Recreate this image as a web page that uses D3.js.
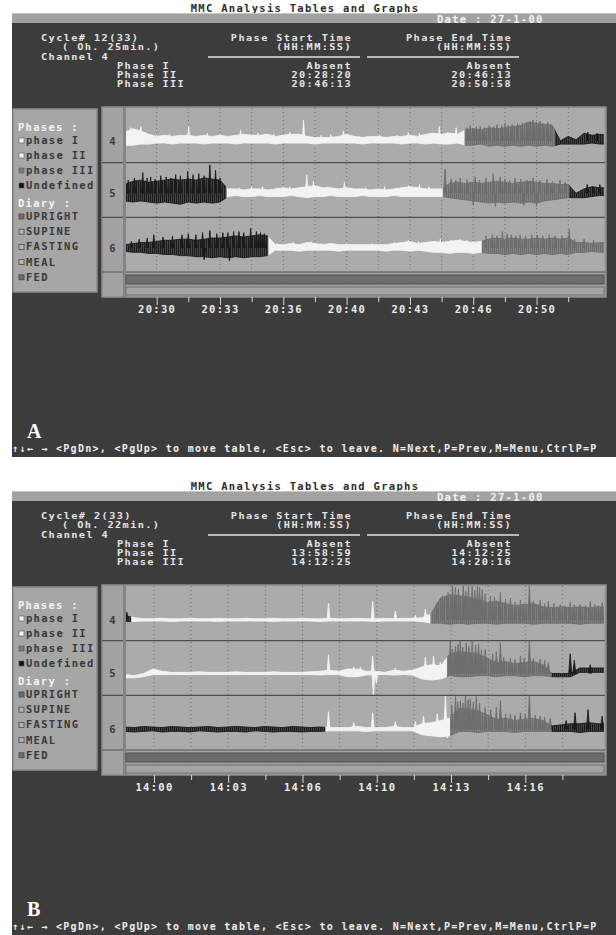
<!DOCTYPE html>
<html lang="en">
<head>
<meta charset="utf-8">
<title>MMC Analysis Tables and Graphs</title>
<script src="https://cdn.jsdelivr.net/npm/d3@7"></script>
<style>
  body { margin: 0; background: #fff; }
  svg text { font-family: "DejaVu Sans Mono", monospace; font-weight: bold; font-size: 10.5px; letter-spacing: 1.3px; }
  svg text.hdr { font-size: 7.9px; letter-spacing: 1.07px; }
</style>
</head>
<body>
<script>
// ---- values ----
var screenLetters = ["A", "B"]
var titleText = "MMC Analysis Tables and Graphs"
var dateLabel = "Date : 27-1-00"
var cycleLabels = ["Cycle# 12(33)", "Cycle#  2(33)"]
var cycleLengths = ["( Oh. 25min.)", "( Oh. 22min.)"]
var channelLabel = "Channel 4"
var phaseNames = ["Phase I", "Phase II", "Phase III"]
var startTimesA = ["Absent", "20:28:20", "20:46:13"]
var endTimesA = ["Absent", "20:46:13", "20:50:58"]
var startTimesB = ["Absent", "13:58:59", "14:12:25"]
var endTimesB = ["Absent", "14:12:25", "14:20:16"]
var footerText = "\u2191\u2193\u2190 \u2192 <PgDn>, <PgUp> to move table, <Esc> to leave. N=Next,P=Prev,M=Menu,CtrlP=P"

var legendPhases = ["phase I", "phase II", "phase III", "Undefined"]
var legendPhaseFills = ["#f4f4f4", "#f4f4f4", "#7a7a7a", "#111"]
var legendDiary = ["UPRIGHT", "SUPINE", "FASTING", "MEAL", "FED"]
var legendDiaryFills = ["#6c6c6c", "#b4b4b4", "#b4b4b4", "#b4b4b4", "#6c6c6c"]

var channels = ["4", "5", "6"]
var timeDomainA = ["20:28:20", "20:53:33"]
var timeDomainB = ["13:58:42", "14:20:12"]
var firstTickA = "20:30:00", firstTickB = "14:00:00"
var tickLabelsA = ["20:30", "20:33", "20:36", "20:40", "20:43", "20:46", "20:50"]
var tickLabelsB = ["14:00", "14:03", "14:06", "14:10", "14:13", "14:16"]

// phase segments per channel: [phase, from, to]  (U = undefined)
var segA4 = [["II", "20:28:20", "20:46:13"], ["III", "20:46:13", "20:50:58"], ["U", "20:50:58", "20:53:33"]]
var segA5 = [["U", "20:28:20", "20:33:41"], ["II", "20:33:41", "20:45:04"], ["III", "20:45:04", "20:51:43"], ["U", "20:51:43", "20:53:33"]]
var segA6 = [["U", "20:28:20", "20:35:53"], ["II", "20:35:53", "20:47:07"], ["III", "20:47:07", "20:53:33"]]
var segB4 = [["U", "13:58:42", "13:58:59"], ["II", "13:58:59", "14:12:25"], ["III", "14:12:25", "14:20:12"]]
var segB5 = [["II", "13:58:42", "14:13:09"], ["III", "14:13:09", "14:17:51"], ["U", "14:17:51", "14:20:12"]]
var segB6 = [["U", "13:58:42", "14:07:42"], ["II", "14:07:42", "14:13:18"], ["III", "14:13:18", "14:17:51"], ["U", "14:17:51", "14:20:12"]]

// trace envelope (mmHg above / below each channel's baseline), one value every 25 s
var sampleStep = 25
var baseA = [0, 2, 2]
var baseB = [-1, 0, -1]
var hiA4 = [8, 11, 9, 6, 4, 5, 4, 5, 5, 4, 5, 4, 5, 4, 5, 6, 5, 5, 6, 4, 5, 6, 6, 4, 3, 3, 3, 4, 6, 4, 3, 4, 4, 3, 4, 4, 5, 4, 6, 7, 6, 7, 6, 10, 11, 10, 12, 11, 12, 13, 14, 17, 16, 15, 14, 0, 4, 1, 7, 5, 6, 5]
var loA4 = [-4, -4, -3, -3, -2, -2, -3, -2, -2, -2, -3, -2, -2, -2, -3, -2, -2, -2, -2, -3, -2, -2, -2, -2, -3, -2, -2, -2, -2, -2, -3, -2, -2, -2, -2, -3, -2, -2, -3, -2, -3, -3, -2, -4, -4, -3, -5, -4, -5, -4, -5, -4, -5, -4, -5, -3, -3, -3, -3, -2, -3, -3]
var hiA5 = [8, 11, 12, 10, 11, 12, 13, 12, 13, 12, 14, 13, 12, 4, 4, 3, 4, 4, 3, 4, 5, 4, 5, 6, 7, 5, 5, 4, 5, 4, 4, 3, 4, 3, 4, 5, 6, 5, 4, 4, 4, 9, 10, 9, 10, 9, 10, 11, 10, 9, 10, 11, 10, 9, 9, 8, 8, 0, 4, 6, 5, 5]
var loA5 = [-7, -8, -7, -8, -9, -8, -9, -10, -8, -9, -8, -9, -8, -3, -2, -3, -3, -2, -3, -3, -3, -2, -3, -4, -3, -3, -2, -3, -3, -3, -2, -3, -3, -3, -2, -3, -3, -3, -3, -3, -3, -4, -5, -6, -7, -8, -9, -8, -9, -8, -9, -8, -9, -7, -6, -5, -4, -4, -4, -3, -2, -2]
var hiA6 = [3, 4, 5, 5, 6, 7, 7, 8, 8, 7, 8, 9, 9, 10, 11, 10, 11, 12, 11, 3, 3, 4, 3, 5, 4, 3, 4, 3, 3, 3, 3, 3, 3, 3, 4, 5, 6, 4, 5, 6, 5, 6, 7, 6, 5, 6, 8, 9, 8, 9, 8, 8, 9, 8, 9, 8, 9, 5, 5, 4, 5, 5]
var loA6 = [-3, -4, -4, -5, -5, -6, -6, -7, -7, -8, -8, -9, -8, -9, -8, -9, -8, -8, -7, -2, -2, -2, -3, -2, -2, -2, -2, -3, -2, -2, -2, -2, -2, -3, -2, -2, -3, -2, -3, -4, -4, -5, -4, -4, -5, -4, -5, -5, -6, -5, -6, -5, -6, -5, -6, -5, -6, -4, -4, -3, -4, -4]
var hiB4 = [4, 2, 1, 1, 1.5, 1, 1, 1.5, 1, 1, 1.5, 1, 1, 1.5, 1, 1, 1.5, 1, 1, 1.5, 1, 1, 1.5, 1, 1, 1.5, 1, 1, 1.5, 1, 1.5, 1.5, 2, 6, 20, 23, 22, 21, 19, 16, 17, 15, 13, 14, 15, 12, 11, 12, 11, 12, 11, 12, 11]
var loB4 = [-1.5, -1.5, -1, -1, -1, -1.5, -1, -1, -1, -1, -1.5, -1, -1, -1, -1, -1, -1.5, -1, -1, -1, -1, -1.5, -1, -1, -1, -1, -1, -1.5, -1, -1, -1, -1, -1.5, -3, -3, -4, -3, -4, -3, -3, -4, -3, -3, -3, -4, -3, -3, -3, -3, -4, -3, -3, -3]
var hiB5 = [-1, -2, 0, 4, 2, 1, 1, 1, 1.5, 1, 1, 1, 1.5, 1, 1, 1, 1.5, 1, 1, 1, 1.5, 2, 3, 2, 4, 4, 2, 2, 1, 3, 2, 3, 6, 8, 7, 18, 20, 19, 18, 14, 10, 11, 9, 10, 11, 8, 0, 0, 0, 5, 5, 5, 5]
var loB5 = [-4, -4, -3, -1, -1, -1, -1, -1, -1, -1, -1, -1, -1, -1, -1, -1, -1, -1, -1, -1, -1, -1.5, -1, -1, -3, -3, -1.5, -1, -1, -1.5, -1, -1.5, -5, -6, -5, -2, -3, -3, -2, -2, -3, -2, -2, -3, -2, -2, -3, -3, -3, 1, 1, 1, 1]
var hiB6 = [2, 1.5, 2.5, 2, 1.5, 2.5, 2, 1.5, 2, 2.5, 1.5, 2, 2.5, 2, 1.5, 2.5, 2, 1.5, 2.5, 2, 1.5, 2, 1.5, 1.5, 1.5, 2.5, 1.5, 1.5, 1.5, 2.5, 1.5, 1.5, 5, 6, 8, 10, 19, 18, 17, 13, 9, 10, 8, 9, 10, 8, 3, 4, 5, 5, 6, 5, 5]
var loB6 = [-2, -2.5, -2, -1.5, -2.5, -2, -2, -2.5, -1.5, -2, -2.5, -2, -2, -2.5, -1.5, -2, -2.5, -2, -2, -2.5, -2, -2, -1.5, -1.5, -1.5, -1.5, -2, -1.5, -1.5, -1.5, -1.5, -1.5, -5, -6, -7, -6, -2, -2, -3, -2, -2, -2, -3, -2, -2, -2, -2, -2, -2, -3, -2, -2, -2]

// single spikes: [seconds after domain start, peak mmHg]
var spikesA4 = [[18, 12], [50, 13], [100, 5], [140, 6], [201, 13], [260, 7], [300, 6], [365, 10], [420, 7], [470, 6], [520, 8],
  [564, 19], [620, 5], [650, 6], [690, 9], [740, 4], [804, 5], [860, 5], [895, 8], [930, 7], [960, 6], [993, 13], [1020, 8], [1046, 12],
  [1080, 12], [1090, 14], [1100, 11], [1110, 13], [1122, 13], [1135, 12], [1150, 14], [1165, 13], [1175, 15], [1190, 14], [1200, 16],
  [1210, 14], [1223, 15], [1240, 16], [1255, 16], [1270, 17], [1280, 18], [1289, 19], [1300, 17], [1311, 18], [1320, 16], [1336, 17],
  [1345, 15], [1462, 8], [1491, 7]]
var spikesA5 = [[10, 12], [30, 14], [56, 19], [70, 14], [81, 15], [95, 13], [113, 16], [130, 15], [145, 14], [160, 17], [175, 16],
  [198, 20], [215, 17], [233, 18], [250, 16], [268, 26], [286, 21], [300, 14], [360, 5], [400, 6], [435, 6], [480, 5], [520, 6],
  [574, 17], [595, 11], [640, 6], [693, 10], [760, 5], [820, 6], [860, 5], [895, 7], [930, 8], [960, 6],
  [1011, 22], [1030, 13], [1045, 12], [1059, 14], [1080, 13], [1100, -11], [1106, 15], [1120, 12], [1140, 14], [1163, 18],
  [1170, -12], [1185, 15], [1200, 13], [1215, 12], [1232, 14], [1250, 13], [1260, -11], [1270, 12], [1289, 14], [1300, -12],
  [1310, 12], [1333, 13], [1350, 11], [1374, 12], [1390, 10], [1460, 8], [1479, 6], [1500, 8]]
var spikesA6 = [[20, 6], [45, 8], [70, 9], [91, 12], [120, 10], [150, 11], [180, 12], [200, 13], [224, 12], [245, 14], [250, -11],
  [268, 16], [290, 13], [309, 14], [325, 14], [330, -12], [343, 15], [360, 15], [375, 14], [397, 18], [415, 15], [428, 14], [440, 13],
  [480, 4], [532, 5], [587, 6], [620, 4], [700, 4], [780, 4], [850, 5], [895, 7], [927, 6], [996, 8], [1030, 7], [1059, 8], [1080, 7],
  [1100, 6], [1140, 11], [1160, 12], [1175, 11], [1192, 15], [1207, 13], [1220, 12],
  [1235, 11], [1248, 12], [1265, 11], [1285, 12], [1302, 12], [1320, 11], [1340, 12], [1358, 11], [1380, 11], [1403, 17], [1420, 8],
  [1450, 8], [1480, 7]]
var spikesB4 = [[5, 7], [387, 2], [548, 15], [667, 17], [728, 8], [782, 4], [809, 10], [840, 15], [855, 22], [870, 25], [882, 33],
  [890, 30], [898, 28], [911, 33], [918, 26], [925, 31], [935, 33], [942, 27], [949, 32], [955, 30], [962, 28], [970, 24], [984, 22],
  [995, 21], [1011, 25], [1025, 19], [1038, 20], [1050, 16], [1065, 18], [1075, 15], [1089, 32], [1100, 17], [1118, 18], [1130, 15],
  [1140, 17], [1155, 15], [1172, 14], [1185, 13], [1199, 16], [1210, 14], [1226, 14], [1240, 13], [1253, 17], [1265, 14], [1275, 13],
  [1285, 16]]
var spikesB5 = [[548, 17], [616, 6], [634, 6], [667, 16], [669, -20], [677, -9], [728, 5], [809, 15], [831, 16], [849, 10], [876, 30],
  [882, 22], [890, 25], [897, 27], [903, 30], [910, 24], [919, 28], [926, 25], [935, 30], [944, 26], [952, 27], [960, 22], [970, 22],
  [990, 18], [1000, 20], [1011, 28], [1020, 15], [1038, 14], [1050, 13], [1065, 16], [1075, 14], [1089, 31], [1100, 14], [1118, 13],
  [1130, 12], [1140, 10], [1199, 18], [1210, 12], [1253, 8]]
var spikesB6 = [[548, 16], [616, 6], [667, 15], [728, 7], [782, 7], [804, 12], [841, 14], [863, 31], [868, -8], [880, 22], [890, 30],
  [896, 25], [903, 26], [910, 24], [917, 31], [924, 27], [930, 28], [938, 25], [946, 30], [955, 24], [970, 20], [985, 18], [1000, 20],
  [1011, 26], [1025, 14], [1038, 14], [1050, 13], [1065, 15], [1078, 14], [1089, 32], [1105, 13], [1118, 12], [1130, 11], [1145, 10],
  [1188, 8], [1212, 15], [1247, 18], [1285, 12]]

var phaseColor = { I: "#f3f3f3", II: "#f3f3f3", III: "#6e6e6e", U: "#1b1b1b" }

// ---- drawing ----
var svg = d3.select('body').append('svg').attr('width', 616).attr('height', 935)
var parse = d3.timeParse('%H:%M:%S')
var clipId = 0

// vertical hatching gives the dense-noise look of the recorder traces
var defs = svg.append('defs')
Object.keys(phaseColor).forEach(function(k) {
  defs.append('pattern').attr('id', 'hatch' + k).attr('patternUnits', 'userSpaceOnUse')
    .attr('width', 2).attr('height', 4)
    .append('rect').attr('width', 1.7).attr('height', 4).attr('fill', phaseColor[k])
})
function traceFill(ph) { return (ph === 'III' || ph === 'U') ? 'url(#hatch' + ph + ')' : phaseColor[ph] }

var screens = [
  { oy: 0, letter: screenLetters[0], cycle: cycleLabels[0], len: cycleLengths[0], starts: startTimesA, ends: endTimesA,
    domain: timeDomainA, firstTick: firstTickA, tickLabels: tickLabelsA, base: baseA,
    segs: [segA4, segA5, segA6], his: [hiA4, hiA5, hiA6], los: [loA4, loA5, loA6], spikes: [spikesA4, spikesA5, spikesA6] },
  { oy: 478, letter: screenLetters[1], cycle: cycleLabels[1], len: cycleLengths[1], starts: startTimesB, ends: endTimesB,
    domain: timeDomainB, firstTick: firstTickB, tickLabels: tickLabelsB, base: baseB,
    segs: [segB4, segB5, segB6], his: [hiB4, hiB5, hiB6], los: [loB4, loB5, loB6], spikes: [spikesB4, spikesB5, spikesB6] }
]

function txt(g, x, y, s, fill, anchor) {
  return g.append('text').attr('x', x).attr('y', y).attr('fill', fill)
    .attr('text-anchor', anchor || 'start').text(s)
}

// several screen lines in the tight header: glyphs stretched sideways like the DOS font
function block(g, x, y, lines, dy, fill, anchor, indents) {
  lines.forEach(function(l, i) {
    var xi = x + (indents ? indents[i] : 0)
    g.append('text').attr('class', 'hdr')
      .attr('transform', 'translate(' + xi + ',' + (y + i * dy) + ') scale(1.3,1)')
      .attr('fill', fill).attr('text-anchor', anchor || 'start').text(l)
  })
}

function drawScreen(s) {
  var g = svg.append('g').attr('transform', 'translate(0,' + s.oy + ')')

  // title strip, grey bar, dark screen
  txt(g, 305, 12, titleText, '#2b2b2b', 'middle')
  g.append('rect').attr('x', 12).attr('y', 13).attr('width', 604).attr('height', 10).attr('fill', '#a2a2a2')
  g.append('line').attr('x1', 12).attr('x2', 616).attr('y1', 13.5).attr('y2', 13.5).attr('stroke', '#c4c4c4')
  g.append('rect').attr('x', 12).attr('y', 23).attr('width', 604).attr('height', 434).attr('fill', '#3c3c3c')
  txt(g, 437, 23, dateLabel, '#f2f2f2')

  // header table
  var hc = '#e4e4e4', pitch = 9.3
  block(g, 41, 41, [s.cycle, s.len, channelLabel], pitch, hc, 'start', [0, 21, 0])
  block(g, 117, 68.7, phaseNames, pitch, hc)
  block(g, 352, 41, ['Phase Start Time', '(HH:MM:SS)'], pitch, hc, 'end')
  block(g, 512, 41, ['Phase End Time', '(HH:MM:SS)'], pitch, hc, 'end')
  g.append('rect').attr('x', 208).attr('y', 56).attr('width', 152).attr('height', 2).attr('fill', '#b8b8b8')
  g.append('rect').attr('x', 367).attr('y', 56).attr('width', 152).attr('height', 2).attr('fill', '#b8b8b8')
  block(g, 352, 68.7, s.starts, pitch, hc, 'end')
  block(g, 512, 68.7, s.ends, pitch, hc, 'end')

  // legend box
  g.append('rect').attr('x', 13).attr('y', 109).attr('width', 84).attr('height', 183)
    .attr('fill', '#a6a6a6').attr('stroke', '#8a8a8a').attr('stroke-width', 1.5)
  txt(g, 18, 131, 'Phases :', '#f4f4f4')
  legendPhases.forEach(function(p, i) {
    var y = 144 + i * 15
    g.append('rect').attr('x', 19).attr('y', y - 6).attr('width', 5).attr('height', 5)
      .attr('fill', legendPhaseFills[i]).attr('stroke', '#555').attr('stroke-width', 0.6)
    txt(g, 26, y, p, '#383838')
  })
  txt(g, 18, 207, 'Diary :', '#f4f4f4')
  legendDiary.forEach(function(p, i) {
    var y = 220 + i * 15.2
    g.append('rect').attr('x', 19).attr('y', y - 6).attr('width', 5).attr('height', 5)
      .attr('fill', legendDiaryFills[i]).attr('stroke', '#4a4a4a').attr('stroke-width', 0.8)
    txt(g, 26, y, p, '#383838')
  })

  // graph panel
  var px0 = 126, px1 = 604, rowTop = 108, rowBot = 272
  g.append('rect').attr('x', 102).attr('y', 107).attr('width', 504).attr('height', 190)
    .attr('fill', '#a2a2a2').attr('stroke', '#8c8c8c').attr('stroke-width', 1.5)
  g.append('rect').attr('x', px0).attr('y', rowTop).attr('width', px1 - px0).attr('height', rowBot - rowTop)
    .attr('fill', '#ababab')

  var x = d3.scaleTime().domain(s.domain.map(parse)).range([125, px1])
  var t0 = parse(s.domain[0]), tEnd = parse(s.domain[1])
  var tick0 = parse(s.firstTick)
  var tickDates = d3.range(0, 20).map(function(i) { return d3.timeSecond.offset(tick0, 100 * i) })
    .filter(function(d) { return d < d3.timeSecond.offset(tEnd, -20) })

  var row = d3.scaleBand().domain(channels).range([rowTop, rowBot])

  // dotted grid
  g.append('g').selectAll('line').data(tickDates).enter().append('line')
    .attr('x1', function(d) { return x(d) }).attr('x2', function(d) { return x(d) })
    .attr('y1', rowTop).attr('y2', rowBot)
    .attr('stroke', '#6c6c6c').attr('stroke-width', 1).attr('stroke-dasharray', '1,3')

  // traces
  channels.forEach(function(ch, ci) {
    var top = row(ch), bot = top + row.bandwidth()
    var y = d3.scaleLinear().domain([-20, 30]).range([bot, top])
    var base = s.base[ci]
    var env = s.his[ci].map(function(h, k) { return { t: d3.timeSecond.offset(t0, sampleStep * k), hi: h, lo: s.los[ci][k] } })
    var area = d3.area()
      .x(function(d) { return x(d.t) })
      .y0(function(d) { return y(base + d.lo) })
      .y1(function(d) { return y(base + d.hi) })
    var spikePath = s.spikes[ci].map(function(sp) {
      var tc = d3.timeSecond.offset(t0, sp[0])
      return 'M' + x(d3.timeSecond.offset(tc, -4)) + ',' + y(base) +
        'L' + x(tc) + ',' + y(base + sp[1]) +
        'L' + x(d3.timeSecond.offset(tc, 4)) + ',' + y(base)
    }).join('')

    s.segs[ci].forEach(function(seg) {
      var id = 'clip' + (clipId++)
      var xa = x(parse(seg[1])), xb = x(parse(seg[2]))
      g.append('clipPath').attr('id', id).append('rect')
        .attr('x', xa).attr('y', top).attr('width', xb - xa).attr('height', bot - top)
      var cg = g.append('g').attr('clip-path', 'url(#' + id + ')')
      var col = phaseColor[seg[0]]
      cg.append('path').datum(env).attr('d', area)
        .attr('fill', traceFill(seg[0])).attr('stroke', col).attr('stroke-width', 0.9)
      cg.append('path').attr('d', spikePath)
        .attr('fill', col).attr('stroke', col).attr('stroke-width', 0.9).attr('stroke-linejoin', 'round')
    })

    txt(g, 113, y(base) + 4, ch, '#3a3a3a', 'middle')
    if (ci > 0) {
      g.append('line').attr('x1', 102).attr('x2', px1 + 1).attr('y1', top).attr('y2', top)
        .attr('stroke', '#4e4e4e').attr('stroke-width', 1.2)
    }
  })
  g.append('line').attr('x1', 102).attr('x2', px1 + 1).attr('y1', rowBot).attr('y2', rowBot)
    .attr('stroke', '#555').attr('stroke-width', 1.2)
  // label column separator
  g.append('rect').attr('x', 123).attr('y', 107).attr('width', 3).attr('height', 190).attr('fill', '#858585')

  // two status bars under the graph
  g.append('rect').attr('x', px0).attr('y', 275).attr('width', px1 - px0).attr('height', 9)
    .attr('fill', '#6c6c6c').attr('stroke', '#505050').attr('stroke-width', 1)
  g.append('rect').attr('x', px0).attr('y', 287).attr('width', px1 - px0).attr('height', 8)
    .attr('fill', '#a4a4a4').attr('stroke', '#6e6e6e').attr('stroke-width', 1)
  g.append('g').selectAll('line').data(tickDates).enter().append('line')
    .attr('x1', function(d) { return x(d) }).attr('x2', function(d) { return x(d) })
    .attr('y1', 284.5).attr('y2', 287).attr('stroke', '#8a8a8a')

  // time axis
  var axis = d3.axisBottom(x).tickValues(tickDates).tickSize(5).tickPadding(4)
    .tickFormat(function(d, i) { return i % 2 === 0 ? s.tickLabels[i / 2] : '' })
  var ax = g.append('g').attr('transform', 'translate(0,297)').call(axis)
  ax.select('.domain').remove()
  ax.selectAll('.tick line').attr('stroke', '#d8d8d8')
  ax.selectAll('.tick').filter(function(d, i) { return i % 2 === 0 }).select('line').attr('y2', 8)
  ax.selectAll('.tick text').attr('fill', '#ececec').attr('dy', '0.71em')
    .style('font-family', '"DejaVu Sans Mono", monospace').style('font-size', '10.5px')

  // panel letter and key help line
  g.append('text').attr('x', 27).attr('y', 438).attr('fill', '#fff')
    .style('font-family', '"Liberation Serif", serif').style('font-size', '20px').style('letter-spacing', '0')
    .text(s.letter)
  txt(g, 12, 452, footerText, '#ececec').style('font-size', '10px')
}

screens.forEach(drawScreen)
</script>
</body>
</html>
